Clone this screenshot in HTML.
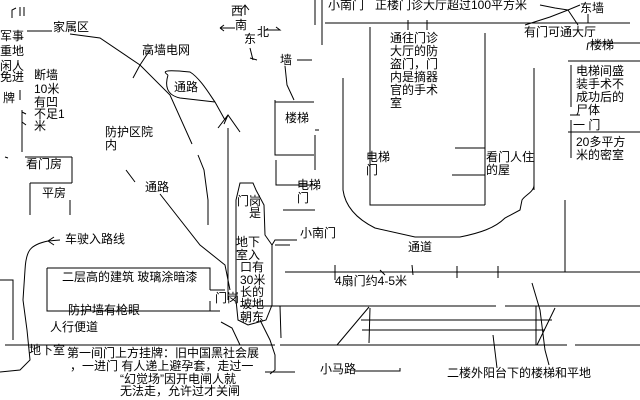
<!DOCTYPE html>
<html><head><meta charset="utf-8"><style>
html,body{margin:0;padding:0;background:#fff;}
svg{display:block}
text{font-family:"Liberation Sans","Noto Sans CJK SC","WenQuanYi Zen Hei",sans-serif;font-size:12px;fill:#000;dominant-baseline:hanging}
</style></head><body>
<svg width="640" height="400" viewBox="0 0 640 400" xmlns="http://www.w3.org/2000/svg">
<g fill="none" stroke="#000" stroke-width="1">
<path d="M12 18 L12 10 L16 8 M20 7 L20 16 M24 7 L24 16"/>
<path d="M27 31 L52 31 M70 34 L100 38 L140 65 L170 95 L192 144"/>
<path d="M150 50 L140 65 L133 78"/>
<path d="M20 90 L20 100 M22 110 L22 152 M22 112 L26 114 M22 122 L26 125"/>
<path d="M5 157 L8 158 M25 157 L72 157 M72 157 L72 183 M30 183 L72 183 M30 183 L30 215 M70 200 L70 215"/>
<path d="M0 280 L13 280 L13 340"/>
<path d="M198 155 L204 170 L208 200 L208 225"/>
<path d="M126 170 L135 182 M160 194 L200 245 L225 265 L230 290"/>
<path d="M168 75 C160 70 170 70 190 72 C200 78 210 95 215 102 L225 120 M180 98 C166 95 165 85 168 75 M180 98 L215 102"/>
<path d="M228 128 L228 300 M218 128 L228 115 L240 132 M224 124 L228 115"/>
<path d="M245 5 L245 15 M241 10 L245 5 L249 10 M220 28 L235 28 M220 28 L224 25 M220 28 L224 31 M265 30 L280 30 L276 27 M250 48 L253 60 M250 58 L257 60"/>
<path d="M297 60 L312 60 M285 66 L287 85 L294 100"/>
<path d="M275 100 L275 155 L314 155 M275 102 L314 102 M315 0 L315 25"/>
<path d="M315 130 L319 130 M315 135 L315 170"/>
<path d="M276 160 L276 185 L315 185 M283 210 L315 210"/>
<path d="M240 183 L253 183 L256 190 L264 205 L265 235 L272 245 L272 305 L266 320 L248 325 L238 320 L236 300 L236 200 Z"/>
<path d="M272 245 L275 240 L297 240 M275 245 L290 245"/>
<path d="M221 322 L232 328 L240 345 M260 320 L270 340 L275 355 L275 370 L270 374 M265 372 L295 372"/>
<path d="M322 0 L322 45 M325 23 L630 23 M408 20 L408 30 M427 20 L427 30"/>
<path d="M370 27 L370 205 L485 205 M343 78 L343 190 C345 205 355 218 375 228 L415 237 L460 237 C480 233 495 228 505 218 L520 210 L522 200 C525 195 534 192 534 185 M485 33 L485 205 M455 148 L485 148 M452 175 L485 175 M534 68 L534 190"/>
<path d="M565 200 L565 272"/>
<path d="M540 5 L555 8 L568 10 L580 5 M568 10 L550 17 L525 25 M568 10 L578 25 M588 14 L588 23"/>
<path d="M588 43 L640 43 M588 43 L587 50 M568 61 L640 61 M571 65 L571 107 M568 132 L640 132 M570 115 L580 115 M571 120 L571 158"/>
<path d="M285 272 L640 272 M335 265 L335 280 M380 270 L385 275 M412 265 L413 275 M457 266 L457 278 M498 266 L498 278"/>
<path d="M240 306 L496 306 M505 306 L640 306 M280 306 L281 338"/>
<path d="M361 320 L552 320 M362 330 L545 330 M370 308 L369 343"/>
<path d="M5 345 L275 345 M280 345 L567 345 M575 345 L640 345 M337 345 L369 307"/>
<path d="M536 306 L536 345 M555 308 L537 345 M532 283 L540 310 L545 350 L549 365"/>
<path d="M493 335 L497 368"/>
<path d="M47 268 L210 268 L210 290 M210 290 L225 290 M47 268 L47 311 L220 311 M210 301 L210 311"/>
<path d="M60 240 L48 241 C30 245 26 250 25 270 L23 300 L27 330 L30 360 L20 370 L0 372 M48 241 L54 237 M48 241 L54 245"/>
<path d="M355 371 L400 371 L400 368"/>
</g>
<text x="53" y="22">家属区</text>
<text x="0" y="31">军事</text><text x="0" y="46">重地</text><text x="0" y="61">闲人</text><text x="0" y="72">免进</text><text x="3" y="93">牌</text>
<text x="34" y="70">断墙</text><text x="34" y="84">10米</text><text x="34" y="97">有凹</text><text x="34" y="109">不足1</text><text x="34" y="121">米</text>
<text x="142" y="45">高墙电网</text>
<text x="231" y="6">西</text><text x="235" y="20">南</text><text x="244" y="34">东</text><text x="257" y="27">北</text>
<text x="280" y="55">墙</text>
<text x="174" y="82">通路</text>
<text x="105" y="127">防护区院</text><text x="105" y="140">内</text>
<text x="26" y="159">看门房</text><text x="42" y="188">平房</text>
<text x="145" y="182">通路</text>
<text x="285" y="113">楼梯</text>
<text x="297" y="180">电梯</text><text x="297" y="193">门</text>
<text x="237" y="196">门岗</text><text x="249" y="208">是</text>
<text x="236" y="237">地下</text><text x="236" y="250">室入</text><text x="240" y="262">口有</text><text x="240" y="275">30米</text><text x="240" y="287">长的</text><text x="240" y="299">坡地</text><text x="240" y="312">朝东</text>
<text x="215" y="293">门岗</text>
<text x="300" y="228">小南门</text>
<text x="328" y="0">小南门</text>
<text x="375" y="0">正楼门诊大厅超过100平方米</text>
<text x="580" y="3">东墙</text>
<text x="524" y="27">有门可通大厅</text>
<text x="590" y="40">楼梯</text>
<text x="576" y="66">电梯间盛</text><text x="576" y="79">装手术不</text><text x="576" y="92">成功后的</text><text x="576" y="105">尸体</text>
<text x="573" y="120">一 门</text>
<text x="576" y="137">20多平方</text><text x="576" y="150">米的密室</text>
<text x="390" y="33">通往门诊</text><text x="390" y="46">大厅的防</text><text x="390" y="59">盗门，门</text><text x="390" y="72">内是摘器</text><text x="390" y="85">官的手术</text><text x="390" y="98">室</text>
<text x="366" y="152">电梯</text><text x="366" y="165">门</text>
<text x="486" y="152">看门人住</text><text x="486" y="165">的屋</text>
<text x="408" y="242">通道</text>
<text x="335" y="276">4扇门约4-5米</text>
<text x="65" y="234">车驶入路线</text>
<text x="62" y="272">二层高的建筑  玻璃涂暗漆</text>
<text x="68" y="305">防护墙有枪眼</text>
<text x="50" y="322">人行便道</text>
<text x="29" y="345">地下室</text>
<text x="67" y="348">第一间门上方挂牌：旧中国黑社会展</text>
<text x="70" y="361">，一进门 有人递上避孕套，走过一</text>
<text x="120" y="374">“幻觉场”因开电闸人就</text>
<text x="120" y="386">无法走，允许过才关闸</text>
<text x="320" y="364">小马路</text>
<text x="447" y="368">二楼外阳台下的楼梯和平地</text>
</svg>
</body></html>
